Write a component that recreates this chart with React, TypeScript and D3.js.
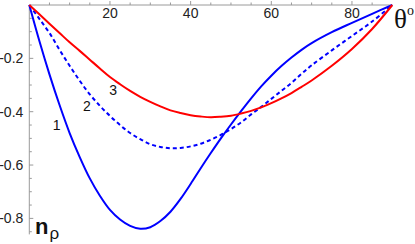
import { useEffect, useRef } from 'react';
import * as d3 from 'd3';

// angle grid (degrees)
const theta = [0, 2.5, 5, 7.5, 10, 12.5, 15, 17.5, 20, 22.5, 25, 27.5, 30, 32.5, 35, 37.5, 40, 42.5, 45, 47.5, 50, 52.5, 55, 57.5, 60, 62.5, 65, 67.5, 70, 75, 80, 85, 90];

// curve 1 (solid blue)
const curve1 = [0, -0.135, -0.26, -0.375, -0.48, -0.57, -0.65, -0.715, -0.768, -0.804, -0.828, -0.839, -0.833, -0.81, -0.775, -0.727, -0.671, -0.612, -0.555, -0.5, -0.448, -0.398, -0.35, -0.305, -0.265, -0.229, -0.197, -0.168, -0.143, -0.102, -0.067, -0.033, 0];

// curve 2 (dashed blue)
const curve2 = [0, -0.052, -0.105, -0.168, -0.228, -0.284, -0.335, -0.378, -0.416, -0.45, -0.48, -0.503, -0.522, -0.532, -0.537, -0.536, -0.53, -0.52, -0.505, -0.487, -0.465, -0.44, -0.41, -0.382, -0.352, -0.322, -0.292, -0.258, -0.226, -0.17, -0.116, -0.062, 0];

// curve 3 (red)
const curve3 = [0, -0.035, -0.07, -0.105, -0.14, -0.172, -0.205, -0.238, -0.27, -0.297, -0.322, -0.344, -0.363, -0.38, -0.395, -0.405, -0.413, -0.418, -0.421, -0.419, -0.415, -0.407, -0.397, -0.384, -0.368, -0.35, -0.33, -0.307, -0.283, -0.228, -0.165, -0.09, 0];

const xTicks = [20, 40, 60, 80];
const yTicks = [-0.2, -0.4, -0.6, -0.8];

const labels = [
  { text: '1', t: 6.8, v: -0.45 },
  { text: '2', t: 14.3, v: -0.38 },
  { text: '3', t: 20.8, v: -0.32 },
];

const W = 415;
const H = 244;

const App = () => {
  const svgRef = useRef<SVGSVGElement>(null);

  useEffect(() => {
    if (!svgRef.current) return;
    const svg = d3.select(svgRef.current);
    svg.selectAll('*').remove();

    const x = d3.scaleLinear().domain([0, 90]).range([29.3, 392.3]);
    const y = d3.scaleLinear().domain([0, -0.86]).range([5, 234.4]);

    const axisColor = '#9a9a9a';
    const font = "'Liberation Sans', Arial, sans-serif";

    // x axis (top)
    svg.append('line')
      .attr('x1', x(0)).attr('x2', x(90))
      .attr('y1', y(0)).attr('y2', y(0))
      .attr('stroke', axisColor).attr('stroke-width', 1);

    d3.range(5, 90, 5).forEach(t => {
      const major = t % 20 === 0;
      svg.append('line')
        .attr('x1', x(t)).attr('x2', x(t))
        .attr('y1', y(0)).attr('y2', y(0) - (major ? 4 : 2.5))
        .attr('stroke', axisColor).attr('stroke-width', 1);
    });

    svg.append('g')
      .selectAll('text')
      .data(xTicks)
      .enter()
      .append('text')
      .attr('x', d => x(d))
      .attr('y', 18.3)
      .attr('text-anchor', 'middle')
      .style('font-family', font)
      .style('font-size', '14px')
      .style('fill', '#222')
      .text(d => d);

    // y axis (left)
    svg.append('line')
      .attr('x1', x(0)).attr('x2', x(0))
      .attr('y1', y(0)).attr('y2', y(-0.86))
      .attr('stroke', axisColor).attr('stroke-width', 1);

    d3.range(1, 18).forEach(i => {
      const v = -i * 0.05;
      const major = i % 4 === 0;
      svg.append('line')
        .attr('x1', x(0)).attr('x2', x(0) + (major ? 4 : 2.5))
        .attr('y1', y(v)).attr('y2', y(v))
        .attr('stroke', axisColor).attr('stroke-width', 1);
    });

    svg.append('g')
      .selectAll('text')
      .data(yTicks)
      .enter()
      .append('text')
      .attr('x', 23.3)
      .attr('y', d => y(d) + 5)
      .attr('text-anchor', 'end')
      .style('font-family', font)
      .style('font-size', '14px')
      .style('fill', '#222')
      .text(d => d.toFixed(1));

    // curves
    const line = d3.line<number>()
      .x((_, i) => x(theta[i]))
      .y(d => y(d))
      .curve(d3.curveCatmullRom.alpha(0.5));

    svg.append('path')
      .attr('d', line(curve1))
      .attr('fill', 'none')
      .attr('stroke', '#0000ff')
      .attr('stroke-width', 2);

    svg.append('path')
      .attr('d', line(curve2))
      .attr('fill', 'none')
      .attr('stroke', '#0000ff')
      .attr('stroke-width', 2)
      .attr('stroke-dasharray', '4,3');

    svg.append('path')
      .attr('d', line(curve3))
      .attr('fill', 'none')
      .attr('stroke', '#ff0000')
      .attr('stroke-width', 2);

    // curve labels
    svg.append('g')
      .selectAll('text')
      .data(labels)
      .enter()
      .append('text')
      .attr('x', d => x(d.t))
      .attr('y', d => y(d.v) + 5)
      .attr('text-anchor', 'middle')
      .style('font-family', font)
      .style('font-size', '14px')
      .style('fill', '#111')
      .text(d => d.text);

    // axis labels
    const th = svg.append('text')
      .attr('x', 394)
      .attr('y', 28)
      .style('font-family', "'Liberation Serif', 'Times New Roman', serif")
      .style('font-size', '27px')
      .style('fill', '#111');
    th.append('tspan').text('θ');
    th.append('tspan')
      .attr('dy', -13)
      .style('font-size', '14px')
      .text('o');

    const np = svg.append('text')
      .attr('x', 35)
      .attr('y', 233.5)
      .style('font-family', font)
      .style('fill', '#111');
    np.append('tspan')
      .style('font-size', '22px')
      .style('font-weight', 'bold')
      .text('n');
    np.append('tspan')
      .attr('dy', 5)
      .attr('dx', 1)
      .style('font-size', '17px')
      .text('ρ');
  }, []);

  return (
    <svg
      ref={svgRef}
      width={W}
      height={H}
      style={{ position: 'absolute', left: 0, top: 0, background: '#fff' }}
    />
  );
};

export default App;
